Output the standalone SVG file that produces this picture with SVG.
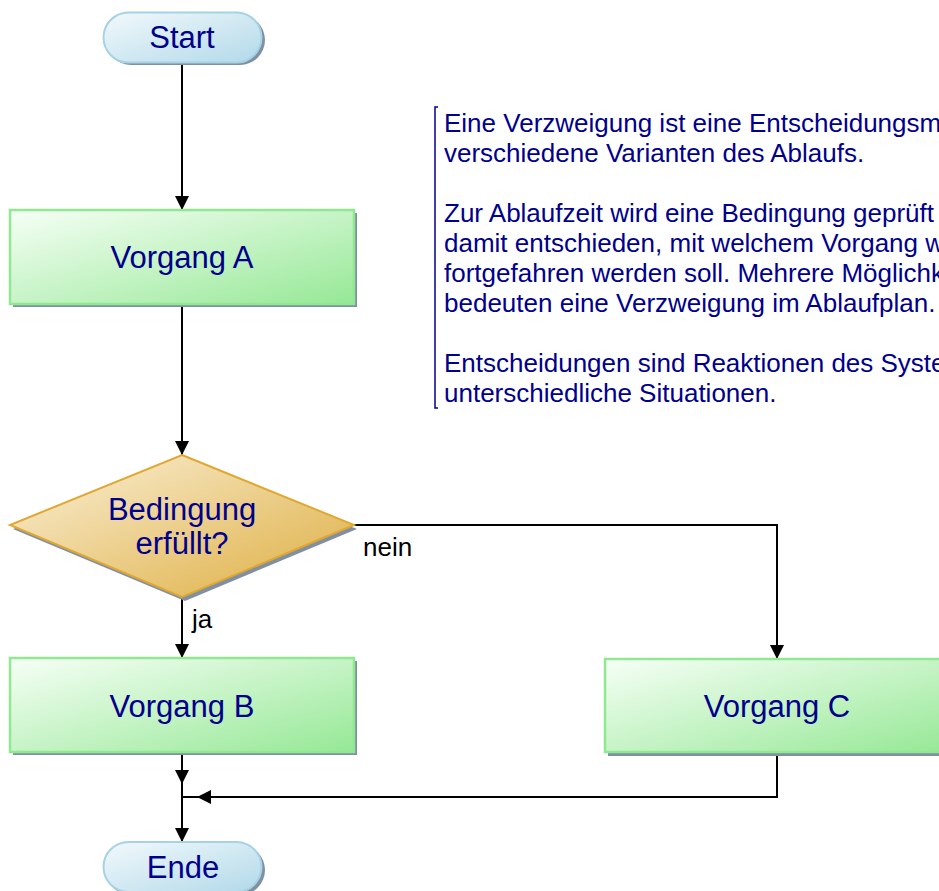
<svg xmlns="http://www.w3.org/2000/svg" width="939" height="891" viewBox="0 0 939 891">
<defs>
<linearGradient id="gGreen" x1="0" y1="0" x2="1" y2="1">
<stop offset="0" stop-color="#f6fff6"/>
<stop offset="1" stop-color="#96e896"/>
</linearGradient>
<linearGradient id="gBlue" x1="0" y1="0" x2="1" y2="1">
<stop offset="0" stop-color="#f2f9fc"/>
<stop offset="1" stop-color="#b2d9e9"/>
</linearGradient>
<linearGradient id="gGold" x1="0" y1="0" x2="1" y2="1">
<stop offset="0" stop-color="#faf0d8"/>
<stop offset="1" stop-color="#deae40"/>
</linearGradient>
<marker id="arr" markerUnits="userSpaceOnUse" markerWidth="16" markerHeight="16" viewBox="0 0 16 16" refX="14" refY="8" orient="auto">
<path d="M0,1 L14,8 L0,15 z" fill="#000"/>
</marker>
<style>
.box{fill:url(#gGreen);stroke:#90e890;stroke-width:2.5}
.pill{fill:url(#gBlue);stroke:#a6d2e4;stroke-width:2}
.dia{fill:url(#gGold);stroke:#e0a830;stroke-width:2}
.shadow{fill:#8090a2}
.lbl{font-family:"Liberation Sans",Arial,sans-serif;font-size:31px;fill:#00008b;text-anchor:middle}
.note{font-family:"Liberation Sans",Arial,sans-serif;font-size:26px;fill:#00008b}
.elbl{font-family:"Liberation Sans",Arial,sans-serif;font-size:26px;fill:#000}
.con{fill:none;stroke:#000;stroke-width:2}
</style>
</defs>
<rect width="939" height="891" fill="#fff"/>

<g id="connectors">
<path class="con" d="M182,63 V210" marker-end="url(#arr)"/>
<path class="con" d="M182,304 V455" marker-end="url(#arr)"/>
<path class="con" d="M182,597 V658" marker-end="url(#arr)"/>
<path class="con" d="M354,525 H777 V659" marker-end="url(#arr)"/>
<path class="con" d="M182,752 V784" marker-end="url(#arr)"/>
<path class="con" d="M182,784 V842" marker-end="url(#arr)"/>
<path class="con" d="M777,752 V797 H197" marker-end="url(#arr)"/>
<path class="con" d="M197,797 H182"/>
<text class="elbl" x="192" y="628">ja</text>
<text class="elbl" x="363" y="556">nein</text>
</g>

<g id="start">
<rect class="shadow" x="106" y="15" width="159" height="50" rx="25"/>
<rect class="pill" x="103.5" y="12.5" width="158" height="50" rx="25"/>
<text class="lbl" x="182" y="48">Start</text>
</g>

<g id="vorgangA">
<rect class="shadow" x="13" y="213" width="344" height="94"/>
<rect class="box" x="10" y="210" width="344" height="94"/>
<text class="lbl" x="182" y="268">Vorgang A</text>
</g>

<g id="bedingung">
<polygon class="shadow" points="185,459 357,529 185,601 13,529"/>
<polygon class="dia" points="182,455 354,525 182,597 10,525"/>
<text class="lbl" x="182" y="520">Bedingung</text>
<text class="lbl" x="182" y="554">erfüllt?</text>
</g>

<g id="vorgangB">
<rect class="shadow" x="13" y="661" width="344" height="94"/>
<rect class="box" x="10" y="658" width="344" height="94"/>
<text class="lbl" x="182" y="717">Vorgang B</text>
</g>

<g id="vorgangC">
<rect class="shadow" x="608" y="662" width="344" height="94"/>
<rect class="box" x="605" y="659" width="344" height="93"/>
<text class="lbl" x="777" y="717">Vorgang C</text>
</g>

<g id="ende">
<rect class="shadow" x="106" y="845" width="159" height="50" rx="25"/>
<rect class="pill" x="103.5" y="842" width="158" height="50" rx="25"/>
<text class="lbl" x="183" y="878">Ende</text>
</g>

<g id="note">
<path d="M438,107 H435 V408 H438" fill="none" stroke="#00008b" stroke-width="1.5"/>
<text class="note" x="444" y="132">Eine Verzweigung ist eine Entscheidungsm</text>
<text class="note" x="444" y="162">verschiedene Varianten des Ablaufs.</text>
<text class="note" x="444" y="222">Zur Ablaufzeit wird eine Bedingung geprüft</text>
<text class="note" x="444" y="252">damit entschieden, mit welchem Vorgang w</text>
<text class="note" x="444" y="282">fortgefahren werden soll. Mehrere Möglichk</text>
<text class="note" x="444" y="312">bedeuten eine Verzweigung im Ablaufplan.</text>
<text class="note" x="444" y="372">Entscheidungen sind Reaktionen des Syste</text>
<text class="note" x="444" y="402">unterschiedliche Situationen.</text>
</g>
</svg>
